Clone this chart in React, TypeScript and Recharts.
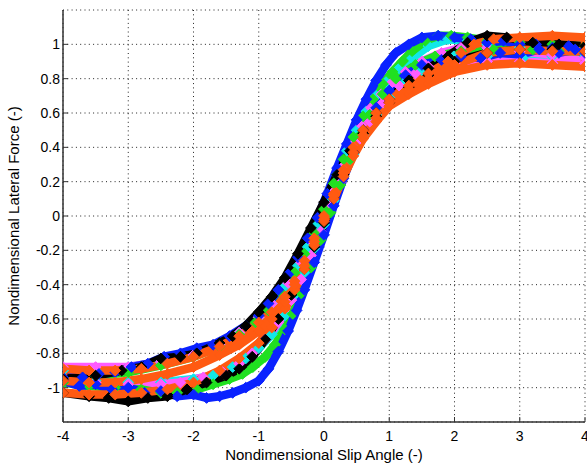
import React from 'react';
import { LineChart, Line, XAxis, YAxis, CartesianGrid } from 'recharts';

type P = [number, number];

const xTicks = [-4, -3, -2, -1, 0, 1, 2, 3, 4];
const yTicks = [-1, -0.8, -0.6, -0.4, -0.2, 0, 0.2, 0.4, 0.6, 0.8, 1];

// each run: outbound branch (x -4 -> 4), then return branch (x 4 -> -4)
const cyanRun: P[] = [
  [-4, -0.95], [-3.5, -0.96], [-3, -0.97], [-2.5, -0.97], [-2.0, -0.95], [-1.7, -0.93], [-1.4, -0.88], [-1.2, -0.83],
  [-1.0, -0.77], [-0.8, -0.69], [-0.6, -0.58], [-0.45, -0.46], [-0.3, -0.33], [-0.15, -0.19], [0, -0.05], [0.15, 0.09],
  [0.3, 0.23], [0.45, 0.36], [0.6, 0.47], [0.8, 0.59], [1.0, 0.69], [1.24, 0.78], [1.5, 0.85], [1.99, 0.93], [2.5, 0.93],
  [3.05, 0.92], [3.5, 0.93], [4, 0.93],
  [4, 0.95], [3.5, 0.96], [3, 0.98], [2.5, 1.0], [2.2, 1.02], [1.9, 1.03], [1.6, 0.99], [1.35, 0.92], [1.15, 0.86],
  [0.95, 0.78], [0.8, 0.7], [0.65, 0.61], [0.5, 0.5], [0.35, 0.38], [0.2, 0.24], [0.05, 0.09], [-0.1, -0.05],
  [-0.25, -0.18], [-0.4, -0.29], [-0.6, -0.41], [-0.8, -0.51], [-1.0, -0.59], [-1.3, -0.68], [-1.6, -0.75],
  [-2.0, -0.81], [-2.5, -0.85], [-3.0, -0.88], [-3.5, -0.9], [-4, -0.9],
];

const magentaRun: P[] = [
  [-4, -0.95], [-3.5, -0.97], [-3.0, -0.98], [-2.5, -0.98], [-2.2, -0.97], [-1.85, -0.94], [-1.55, -0.91], [-1.3, -0.86],
  [-1.1, -0.8], [-0.9, -0.72], [-0.7, -0.62], [-0.5, -0.49], [-0.35, -0.37], [-0.2, -0.23], [-0.05, -0.09], [0.1, 0.06],
  [0.25, 0.2], [0.4, 0.33], [0.55, 0.45], [0.7, 0.55], [0.9, 0.66], [1.15, 0.76], [1.4, 0.83], [1.6, 0.87], [2.0, 0.89],
  [2.5, 0.9], [3.0, 0.9], [3.5, 0.89], [4, 0.89],
  [4, 0.92], [3.5, 0.94], [3, 0.96], [2.5, 0.98], [2.1, 0.98], [1.8, 0.95], [1.5, 0.9], [1.25, 0.84], [1.05, 0.78],
  [0.88, 0.71], [0.72, 0.63], [0.57, 0.53], [0.42, 0.41], [0.27, 0.28], [0.12, 0.13], [-0.03, -0.02], [-0.18, -0.15],
  [-0.35, -0.27], [-0.55, -0.39], [-0.8, -0.51], [-1.0, -0.59], [-1.3, -0.68], [-1.6, -0.75], [-2.0, -0.81],
  [-2.5, -0.85], [-3.0, -0.88], [-3.5, -0.88], [-4, -0.88],
];

const greenRun: P[] = [
  [-4, -0.97], [-3.6, -0.99], [-3.2, -1.0], [-2.8, -1.01], [-2.5, -1.03], [-2.25, -1.03], [-1.95, -1.01], [-1.7, -0.98],
  [-1.45, -0.95], [-1.25, -0.92], [-1.09, -0.88], [-0.9, -0.82], [-0.75, -0.75], [-0.6, -0.66], [-0.48, -0.57],
  [-0.35, -0.45], [-0.2, -0.3], [-0.05, -0.14], [0.1, 0.02], [0.25, 0.18], [0.4, 0.33], [0.55, 0.47], [0.7, 0.59],
  [0.9, 0.71], [1.1, 0.8], [1.4, 0.88], [1.7, 0.93], [2.1, 0.96], [2.6, 0.97], [3.2, 0.97], [3.6, 0.96], [4, 0.96],
  [4, 0.99], [3.5, 1.0], [3, 1.01], [2.5, 1.02], [2.2, 1.04], [1.95, 1.05], [1.75, 1.05], [1.55, 1.02], [1.35, 0.96],
  [1.2, 0.9], [1.05, 0.84], [0.9, 0.77], [0.75, 0.68], [0.6, 0.58], [0.45, 0.46], [0.3, 0.33], [0.15, 0.19], [0.0, 0.04],
  [-0.15, -0.1], [-0.3, -0.22], [-0.45, -0.33], [-0.65, -0.45], [-0.85, -0.55], [-1.05, -0.62], [-1.3, -0.69],
  [-1.6, -0.76], [-2.0, -0.82], [-2.5, -0.87], [-3.0, -0.91], [-3.5, -0.93], [-4, -0.94],
];

const blueRun: P[] = [
  [-4.0, -0.96], [-3.75, -0.99], [-3.5, -0.98], [-3.25, -1.01], [-3.0, -1.0], [-2.75, -1.03], [-2.5, -1.02],
  [-2.25, -1.05], [-2.0, -1.04], [-1.8, -1.06], [-1.6, -1.05], [-1.4, -1.03], [-1.2, -1.0], [-1.0, -0.96],
  [-0.85, -0.89], [-0.7, -0.79], [-0.55, -0.67], [-0.42, -0.55], [-0.3, -0.43], [-0.15, -0.27], [0.0, -0.11],
  [0.15, 0.06], [0.3, 0.22], [0.45, 0.37], [0.6, 0.5], [0.8, 0.63], [1.0, 0.73], [1.25, 0.82], [1.5, 0.88],
  [1.8, 0.91], [2.1, 0.93], [2.4, 0.92], [2.7, 0.95], [3.0, 0.94], [3.3, 0.97], [3.6, 0.95], [3.85, 0.97], [4.0, 0.95],
  [4.0, 0.97], [3.75, 0.99], [3.5, 0.98], [3.25, 1.0], [3.0, 1.0], [2.75, 1.02], [2.5, 1.01], [2.25, 1.03],
  [2.0, 1.04], [1.75, 1.05], [1.5, 1.04], [1.3, 1.0], [1.1, 0.95], [0.95, 0.88], [0.8, 0.79], [0.65, 0.68],
  [0.5, 0.56], [0.35, 0.42], [0.2, 0.28], [0.05, 0.13], [-0.1, -0.01], [-0.25, -0.13], [-0.4, -0.24],
  [-0.55, -0.34], [-0.7, -0.43], [-0.85, -0.51], [-1.0, -0.58], [-1.2, -0.64], [-1.45, -0.7], [-1.7, -0.75],
  [-1.95, -0.77], [-2.2, -0.8], [-2.45, -0.82], [-2.7, -0.86], [-2.95, -0.88], [-3.2, -0.91], [-3.45, -0.92],
  [-3.7, -0.94], [-4.0, -0.94],
];

const blackRun: P[] = [
  [-4, -1.03], [-3.6, -1.05], [-3.3, -1.06], [-3.0, -1.08], [-2.7, -1.06], [-2.4, -1.05], [-2.1, -1.01], [-1.8, -0.97],
  [-1.5, -0.93], [-1.3, -0.89], [-1.1, -0.82], [-0.9, -0.72], [-0.7, -0.6], [-0.5, -0.46], [-0.3, -0.31], [-0.15, -0.18],
  [0, -0.04], [0.15, 0.1], [0.3, 0.24], [0.45, 0.37], [0.6, 0.48], [0.8, 0.58], [1.0, 0.66], [1.3, 0.75], [1.6, 0.82],
  [2.0, 0.9], [2.5, 0.95], [3, 0.97], [3.5, 0.97], [4, 0.96],
  [4, 0.99], [3.6, 1.0], [3.2, 1.01], [2.8, 1.04], [2.5, 1.05], [2.2, 1.01], [1.9, 0.93], [1.6, 0.86], [1.3, 0.79],
  [1.0, 0.68], [0.8, 0.6], [0.6, 0.5], [0.4, 0.38], [0.2, 0.24], [0, 0.08], [-0.2, -0.07], [-0.4, -0.22], [-0.6, -0.36],
  [-0.8, -0.47], [-1.0, -0.56], [-1.2, -0.64], [-1.4, -0.7], [-1.6, -0.74], [-1.95, -0.8], [-2.2, -0.82], [-2.5, -0.83],
  [-2.8, -0.88], [-3.1, -0.9], [-3.5, -0.93], [-4, -0.95],
];

const orangeRun: P[] = [
  [-4, -1.03], [-3.6, -1.04], [-3.2, -1.04], [-2.8, -1.03], [-2.4, -1.01], [-2.0, -0.97], [-1.6, -0.9], [-1.3, -0.83],
  [-1.0, -0.74], [-0.8, -0.65], [-0.6, -0.54], [-0.45, -0.43], [-0.3, -0.31], [-0.15, -0.17], [0, -0.03], [0.15, 0.1],
  [0.3, 0.23], [0.45, 0.35], [0.6, 0.45], [0.8, 0.55], [1.0, 0.64], [1.3, 0.71], [1.6, 0.77], [2.0, 0.84], [2.5, 0.88],
  [3.0, 0.89], [3.5, 0.88], [4, 0.87],
  [4, 1.04], [3.5, 1.05], [3, 1.04], [2.6, 1.03], [2.3, 1.0], [2.1, 0.95], [1.9, 0.9], [1.6, 0.83], [1.3, 0.76],
  [1.0, 0.68], [0.8, 0.6], [0.6, 0.5], [0.45, 0.4], [0.3, 0.27], [0.15, 0.13], [0, 0], [-0.15, -0.13], [-0.3, -0.26],
  [-0.45, -0.38], [-0.6, -0.47], [-0.8, -0.56], [-1.0, -0.62], [-1.3, -0.7], [-1.6, -0.76], [-2.0, -0.82],
  [-2.4, -0.86], [-2.8, -0.89], [-3.2, -0.9], [-3.6, -0.9], [-4, -0.89],
  [-4, -0.96], [-3.6, -0.97], [-3.2, -0.97], [-2.8, -0.95], [-2.4, -0.92], [-2.0, -0.88], [-1.6, -0.81], [-1.3, -0.75],
  [-1.0, -0.67], [-0.8, -0.6], [-0.6, -0.5], [-0.45, -0.4], [-0.3, -0.29], [-0.15, -0.15], [0, -0.02], [0.15, 0.12],
  [0.3, 0.25], [0.45, 0.37], [0.6, 0.47], [0.8, 0.57], [1.0, 0.66], [1.3, 0.74], [1.6, 0.8], [2.0, 0.88], [2.5, 0.95],
  [3.0, 0.97], [3.5, 0.96], [4, 0.96],
];

const SERIES = [
  { name: 'cyan', color: '#10e8e8', pts: cyanRun },
  { name: 'magenta', color: '#ff5cff', pts: magentaRun },
  { name: 'green', color: '#20e020', pts: greenRun },
  { name: 'blue', color: '#0a22ff', pts: blueRun },
  { name: 'black', color: '#000000', pts: blackRun },
  { name: 'orange', color: '#ff5a12', pts: orangeRun },
];

const toRows = (pts: P[]) => pts.map(([x, y]) => ({ x, y }));

const makeDiamond = (color: string) => (props: any) => {
  const { cx, cy, index } = props;
  if (cx == null || cy == null) return <g key={`e${index}`} />;
  const r = 5.4;
  return (
    <path
      key={`d${index}`}
      d={`M${cx},${cy - r}L${cx + r},${cy}L${cx},${cy + r}L${cx - r},${cy}Z`}
      fill={color}
      stroke={color}
      strokeWidth={1}
    />
  );
};

const FONT = '"Liberation Sans", Arial, Helvetica, sans-serif';
const AX = '#333333';

export default function App() {
  return (
    <div style={{ position: 'absolute', left: 0, top: 0, background: '#fff' }}>
      <LineChart width={587} height={465} margin={{ top: 10, right: 2, bottom: 0, left: 0 }}>
        <CartesianGrid stroke="#222" strokeDasharray="1 3.3" strokeWidth={1} />
        <XAxis
          xAxisId={0}
          dataKey="x"
          type="number"
          domain={[-4, 4]}
          ticks={xTicks}
          allowDataOverflow
          height={43}
          interval={0}
          tickSize={-5}
          tickMargin={14}
          axisLine={{ stroke: AX, strokeWidth: 1.5 }}
          tickLine={{ stroke: AX }}
          tick={{ fontSize: 14, fill: '#000', fontFamily: FONT }}
          label={{ value: 'Nondimensional Slip Angle (-)', position: 'insideBottom', offset: 5, style: { fontSize: 15, fill: '#000', fontFamily: FONT } }}
        />
        <XAxis
          xAxisId="top"
          orientation="top"
          type="number"
          domain={[-4, 4]}
          ticks={xTicks}
          height={0}
          interval={0}
          tickSize={-5}
          tickFormatter={() => ''}
          axisLine={{ stroke: AX, strokeWidth: 1.5 }}
          tickLine={{ stroke: AX }}
        />
        <YAxis
          yAxisId={0}
          type="number"
          domain={[-1.2, 1.2]}
          ticks={yTicks}
          allowDataOverflow
          width={63}
          interval={0}
          tickSize={-5}
          tickMargin={8}
          tickFormatter={(v: number) => String(v)}
          axisLine={{ stroke: AX, strokeWidth: 1.5 }}
          tickLine={{ stroke: AX }}
          tick={{ fontSize: 14, fill: '#000', fontFamily: FONT }}
          label={{ value: 'Nondimensional Lateral Force (-)', angle: -90, position: 'insideLeft', offset: 14, style: { fontSize: 15, fill: '#000', fontFamily: FONT, textAnchor: 'middle' } }}
        />
        <YAxis
          yAxisId="right"
          orientation="right"
          type="number"
          domain={[-1.2, 1.2]}
          ticks={yTicks}
          width={0}
          interval={0}
          tickSize={-5}
          tickFormatter={() => ''}
          axisLine={{ stroke: AX, strokeWidth: 1.5 }}
          tickLine={{ stroke: AX }}
        />
        {SERIES.map((s) => (
          <Line
            key={s.name}
            xAxisId={0}
            yAxisId={0}
            data={toRows(s.pts)}
            dataKey="y"
            type="linear"
            stroke={s.color}
            strokeWidth={8.5}
            strokeLinejoin="round"
            dot={makeDiamond(s.color)}
            activeDot={false}
            isAnimationActive={false}
          />
        ))}
      </LineChart>
    </div>
  );
}
